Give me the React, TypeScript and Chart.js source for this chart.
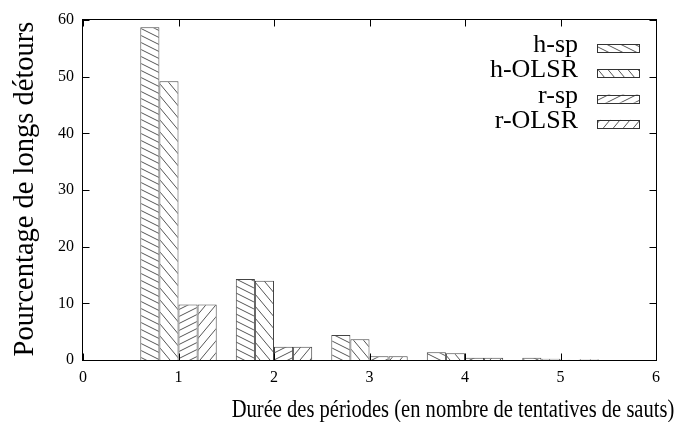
import { useEffect, useRef } from "react";
import { Chart, registerables } from "chart.js";

Chart.register(...registerables);

// Durée des périodes (nombre de tentatives de sauts)
const tentatives = [1, 2, 3, 4, 5];
// Pourcentage de longs détours pour chaque variante
const hSp = [58.7, 14.3, 4.4, 1.35, 0.4];
const hOlsr = [49.2, 14.0, 3.65, 1.2, 0.2];
const rSp = [9.8, 2.35, 0.65, 0.4, 0.05];
const rOlsr = [9.8, 2.35, 0.65, 0.4, 0.15];
const seriesLabels = ["h-sp", "h-OLSR", "r-sp", "r-OLSR"];
const xTitle = "Durée des périodes (en nombre de tentatives de sauts)";
const yTitle = "Pourcentage de longs détours";

const SERIF = "'Liberation Serif', 'Times New Roman', serif";

// Hatch tile: diagonal lines whose slope is tileH / tileW, so the tile wraps seamlessly.
function hatch(ctx: CanvasRenderingContext2D, tileW: number, tileH: number, falling: boolean) {
  const c = document.createElement("canvas");
  c.width = tileW;
  c.height = tileH;
  const g = c.getContext("2d")!;
  g.fillStyle = "#ffffff";
  g.fillRect(0, 0, tileW, tileH);
  g.strokeStyle = "#555555";
  g.lineWidth = 1;
  g.beginPath();
  for (let k = -3; k <= 3; k++) {
    if (falling) {
      g.moveTo(-tileW, -tileH + k * tileH);
      g.lineTo(2 * tileW, 2 * tileH + k * tileH);
    } else {
      g.moveTo(-tileW, 2 * tileH + k * tileH);
      g.lineTo(2 * tileW, -tileH + k * tileH);
    }
  }
  g.stroke();
  return ctx.createPattern(c, "repeat")!;
}

const framePlugin = {
  id: "gnuplotFrame",
  afterDraw(chart: any) {
    const { ctx, chartArea: a, scales } = chart;
    const L = Math.round(a.left) - 0.5;
    const R = Math.round(a.right) + 0.5;
    const T = Math.round(a.top) - 0.5;
    const B = Math.round(a.bottom) + 0.5;
    ctx.save();
    ctx.strokeStyle = "#000";
    ctx.lineWidth = 1;
    ctx.strokeRect(L, T, R - L, B - T);

    // inward tick marks, mirrored on the opposite side
    const tl = 7;
    ctx.beginPath();
    for (const t of scales.x.ticks) {
      const px = Math.round(scales.x.getPixelForValue(t.value)) + 0.5;
      ctx.moveTo(px, B);
      ctx.lineTo(px, B - tl);
      ctx.moveTo(px, T);
      ctx.lineTo(px, T + tl);
    }
    for (const t of scales.y.ticks) {
      const py = Math.round(scales.y.getPixelForValue(t.value)) + 0.5;
      ctx.moveTo(L, py);
      ctx.lineTo(L + tl, py);
      ctx.moveTo(R, py);
      ctx.lineTo(R - tl, py);
    }
    ctx.stroke();

    // axis titles
    ctx.fillStyle = "#000";
    ctx.textAlign = "center";
    ctx.textBaseline = "alphabetic";
    ctx.save();
    ctx.translate(453, 417);
    ctx.scale(0.79, 1);
    ctx.font = `26px ${SERIF}`;
    ctx.fillText(xTitle, 0, 0);
    ctx.restore();

    ctx.save();
    ctx.translate(33, 189);
    ctx.rotate(-Math.PI / 2);
    ctx.font = `28.5px ${SERIF}`;
    ctx.fillText(yTitle, 0, 0);
    ctx.restore();

    // key, inside the top-right corner
    ctx.font = `26px ${SERIF}`;
    ctx.textAlign = "right";
    chart.data.datasets.forEach((ds: any, i: number) => {
      const cy = 48 + i * 25.3;
      ctx.fillStyle = "#000";
      ctx.fillText(ds.label, 578, cy + 4);
      ctx.fillStyle = ds.backgroundColor;
      ctx.fillRect(597, cy - 4, 42, 8);
      ctx.strokeStyle = "#333";
      ctx.strokeRect(597.5, Math.round(cy - 4) + 0.5, 42, 8);
    });
    ctx.restore();
  },
};

export default function App() {
  const ref = useRef<HTMLCanvasElement>(null);

  useEffect(() => {
    const canvas = ref.current!;
    const ctx = canvas.getContext("2d")!;
    const patterns = [
      hatch(ctx, 14, 7, true),
      hatch(ctx, 10, 12, true),
      hatch(ctx, 14, 7, false),
      hatch(ctx, 10, 12, false),
    ];
    const series = [hSp, hOlsr, rSp, rOlsr];

    const chart = new Chart(canvas, {
      type: "bar",
      data: {
        datasets: series.map((vals, s) => ({
          label: seriesLabels[s],
          data: tentatives.map((x, i) => ({ x, y: vals[i] })),
          backgroundColor: patterns[s] as any,
          borderColor: "#444",
          borderWidth: 1,
          categoryPercentage: 0.8,
          barPercentage: 1,
        })),
      },
      options: {
        responsive: false,
        maintainAspectRatio: false,
        animation: false,
        layout: { padding: { top: 20, right: 22, left: 0, bottom: 0 } },
        plugins: {
          legend: { display: false },
          tooltip: { enabled: false },
        },
        scales: {
          x: {
            type: "linear",
            min: 0,
            max: 6,
            offset: false,
            grid: { display: false, drawTicks: false },
            border: { display: false },
            ticks: {
              stepSize: 1,
              padding: 8,
              color: "#000",
              font: { family: SERIF, size: 16 },
            },
            afterFit: (s: any) => {
              s.height = 62;
            },
          },
          y: {
            min: 0,
            max: 60,
            grid: { display: false, drawTicks: false },
            border: { display: false },
            ticks: {
              stepSize: 10,
              padding: 9,
              color: "#000",
              font: { family: SERIF, size: 16 },
            },
            afterFit: (s: any) => {
              s.width = 83;
            },
          },
        },
      },
      plugins: [framePlugin],
    });
    return () => chart.destroy();
  }, []);

  return (
    <div style={{ position: "fixed", left: 0, top: 0, width: 678, height: 422, background: "#fff" }}>
      <canvas ref={ref} width={678} height={422} />
    </div>
  );
}
